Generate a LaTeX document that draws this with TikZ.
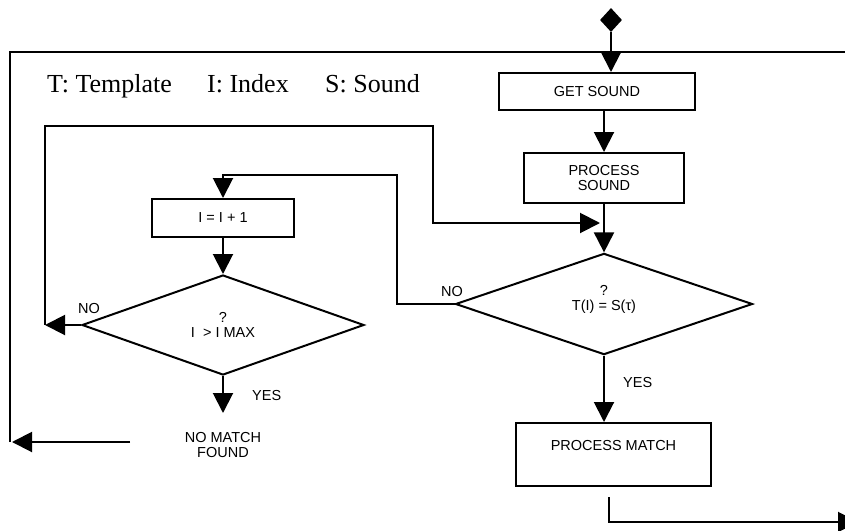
\documentclass[tikz,border=0pt]{standalone}
\usepackage{fontspec}
\setmainfont{Liberation Serif}
\setsansfont{Liberation Sans}
\usetikzlibrary{arrows.meta,shapes.geometric}

\begin{document}
\begin{tikzpicture}[x=1pt,y=-1pt,
  box/.style={draw,line width=2pt,font=\sffamily\fontsize{14.5}{15}\selectfont,align=center,inner sep=0pt},
  ask/.style={diamond,draw,line width=2pt,font=\sffamily\fontsize{14.5}{15}\selectfont,align=center,inner sep=0pt},
  tag/.style={font=\sffamily\fontsize{14.5}{15}\selectfont,inner sep=0pt},
  legend/.style={anchor=base west,inner sep=0pt,font=\fontsize{26}{30}\selectfont},
  flow/.style={line width=2pt,-{Triangle[length=20pt,width=20pt]}},
  wire/.style={line width=2pt}]
  \useasboundingbox (0,0) rectangle (845,530);
  \clip (0,0) rectangle (845,530);
  \node[legend] (tmpl) at (47,92) {T: Template};
  \node[legend] (indx) at (207,92) {I: Index};
  \node[legend] (snd) at (325,92) {S: Sound};
  \node[diamond,fill,minimum width=22pt,minimum height=24pt,inner sep=0pt] (start) at (611,20) {};
  \node[box,minimum width=196pt,minimum height=37pt] (get) at (597,91.5) {GET SOUND};
  \node[box,minimum width=160pt,minimum height=50pt] (proc) at (604,178) {PROCESS\\SOUND};
  \node[ask,minimum width=297pt,minimum height=101pt,text depth=12pt] (cmp) at (604,304) {?\\T(I) = S(τ)};
  \node[box,minimum width=195pt,minimum height=63pt,text height=10pt,text depth=19pt] (match) at (613.5,454.5) {PROCESS MATCH};
  \node[box,minimum width=142pt,minimum height=38pt] (inc) at (223,218) {I = I + 1};
  \node[ask,minimum width=282pt,minimum height=100pt] (chk) at (223,325) {?\\I \ > I MAX};
  \node[tag,align=center,anchor=north,inner ysep=19pt] (nomatch) at (223,413) {NO MATCH\\FOUND};
  \node[tag,anchor=south east] (no1) at (463,297) {NO};
  \node[tag,anchor=south east] (no2) at (100,314) {NO};
  \node[tag,anchor=west] (yes1) at (623,383) {YES};
  \node[tag,anchor=west] (yes2) at (252,396) {YES};
  \coordinate (c1) at (397,175);
  \coordinate (l1) at (45,325);
  \coordinate (c2) at (433,126);
  \coordinate (t1) at (600,223);
  \coordinate (o1) at (130,442);
  \coordinate (o2) at (12,442);
  \coordinate (o3) at (10,442);
  \coordinate (o4) at (850,52);
  \coordinate (m1) at (609,497);
  \coordinate (done) at (858,522);
  \draw[flow] (start.south) -- (start |- get.north);
  \draw[flow] (proc.north |- get.south) -- (proc.north);
  \draw[flow] (proc.south) -- (cmp.north);
  \draw[flow] (cmp.south) -- (cmp.south |- match.north);
  \draw[flow] (cmp.west) -| (c1) -| (inc.north);
  \draw[flow] (inc.south) -- (chk.north);
  \draw[flow] (chk.west) -- (l1);
  \draw[flow] (l1) |- (c2) |- (t1);
  \draw[flow] (chk.south) -- (nomatch.north);
  \draw[flow] (o1) -- (o2);
  \draw[wire] (o3) |- (o4);
  \draw[flow] (m1) |- (done);
\end{tikzpicture}
\end{document}
